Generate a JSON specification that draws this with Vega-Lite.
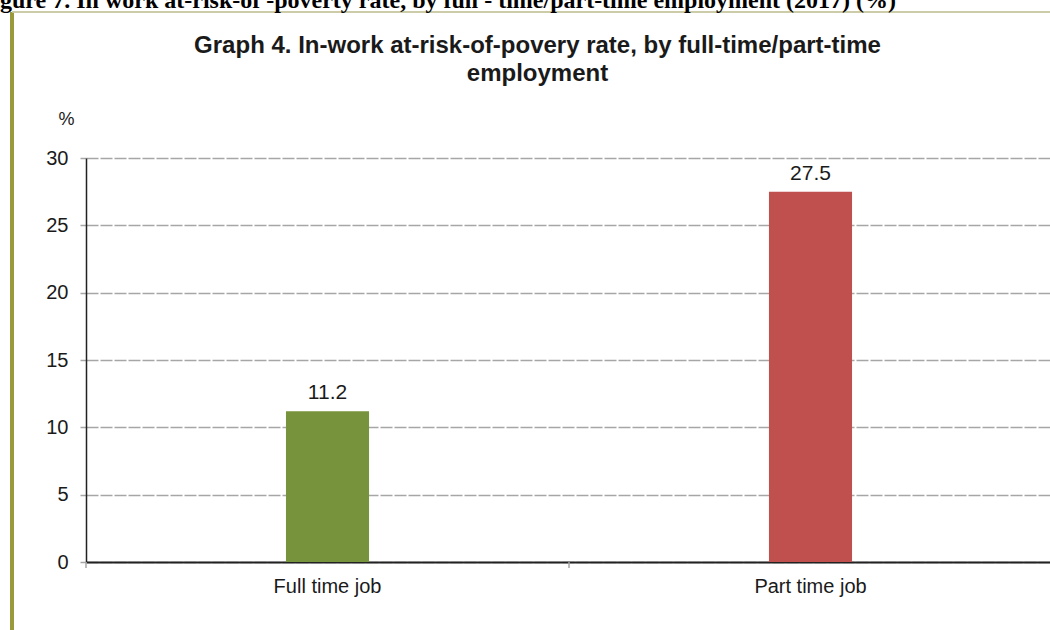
{
  "$schema": "https://vega.github.io/schema/vega-lite/v6.json",
  "autosize": {"type": "none"},
  "width": 966,
  "height": 404,
  "padding": {"left": 86, "top": 158, "right": 0, "bottom": 68},
  "background": "white",
  "config": {
    "view": {"stroke": null},
    "font": "Liberation Sans"
  },
  "title": {
    "text": "gure 7. In work at-risk-of -poverty rate, by full - time/part-time employment (2017) (%)",
    "font": "Liberation Serif",
    "fontSize": 24,
    "fontWeight": "bold",
    "color": "#000000",
    "anchor": "start",
    "frame": "group",
    "baseline": "alphabetic",
    "dx": -86,
    "dy": 36,
    "offset": 14
  },
  "data": {
    "values": [
      {"category": "Full time job", "value": 11.2},
      {"category": "Part time job", "value": 27.5}
    ]
  },
  "encoding": {
    "x": {
      "field": "category",
      "type": "nominal",
      "sort": null,
      "scale": {"paddingInner": 0.828, "paddingOuter": 0.414},
      "axis": {
        "title": ["Graph 4. In-work at-risk-of-povery rate, by full-time/part-time", "employment"],
        "titleFont": "Liberation Sans",
        "titleFontSize": 24,
        "titleFontWeight": "bold",
        "titleColor": "#1a1a1a",
        "titleAlign": "center",
        "titleBaseline": "alphabetic",
        "titleLineHeight": 28,
        "titleX": 451,
        "titleY": -510,
        "labelAngle": 0,
        "labelFontSize": 20,
        "labelColor": "#1a1a1a",
        "labelPadding": 14,
        "ticks": false,
        "domainColor": "#222222",
        "domainWidth": 2,
        "grid": false
      }
    },
    "y": {
      "field": "value",
      "type": "quantitative",
      "scale": {"domain": [0, 30], "nice": false},
      "axis": {
        "values": [0, 5, 10, 15, 20, 25, 30],
        "title": "%",
        "titleAngle": 0,
        "titleFontSize": 18,
        "titleFontWeight": "normal",
        "titleColor": "#1a1a1a",
        "titleAlign": "center",
        "titleBaseline": "alphabetic",
        "titleX": -20,
        "titleY": -34,
        "labelFontSize": 20,
        "labelColor": "#1a1a1a",
        "labelPadding": 12,
        "tickSize": 6,
        "tickColor": "#a6a6a6",
        "tickWidth": 1.5,
        "domainColor": "#222222",
        "domainWidth": 1.5,
        "grid": true,
        "gridColor": "#a6a6a6",
        "gridWidth": 1.5,
        "gridDash": [12, 2]
      }
    }
  },
  "layer": [
    {
      "mark": {"type": "bar"},
      "encoding": {
        "color": {
          "field": "category",
          "type": "nominal",
          "scale": {"domain": ["Full time job", "Part time job"], "range": ["#77933C", "#C0504D"]},
          "legend": null
        }
      }
    },
    {
      "mark": {"type": "text", "baseline": "alphabetic", "dy": -12, "fontSize": 21, "color": "#1a1a1a"},
      "encoding": {
        "text": {"field": "value", "type": "quantitative", "format": ".1f"}
      }
    },
    {
      "mark": {"type": "rule", "xOffset": -241.5, "y2Offset": 6, "color": "#a6a6a6", "strokeWidth": 1.5},
      "encoding": {
        "y": {"datum": 0},
        "y2": {"datum": 0}
      }
    },
    {
      "mark": {"type": "rule", "color": "#9a9a3c", "strokeWidth": 4},
      "encoding": {
        "x": {"value": -74},
        "y": {"value": -146},
        "y2": {"value": 472}
      }
    },
    {
      "mark": {"type": "rule", "color": "#c9c9a3", "strokeWidth": 1.5},
      "encoding": {
        "x": {"value": -74},
        "x2": {"value": 966},
        "y": {"value": -146}
      }
    }
  ]
}
